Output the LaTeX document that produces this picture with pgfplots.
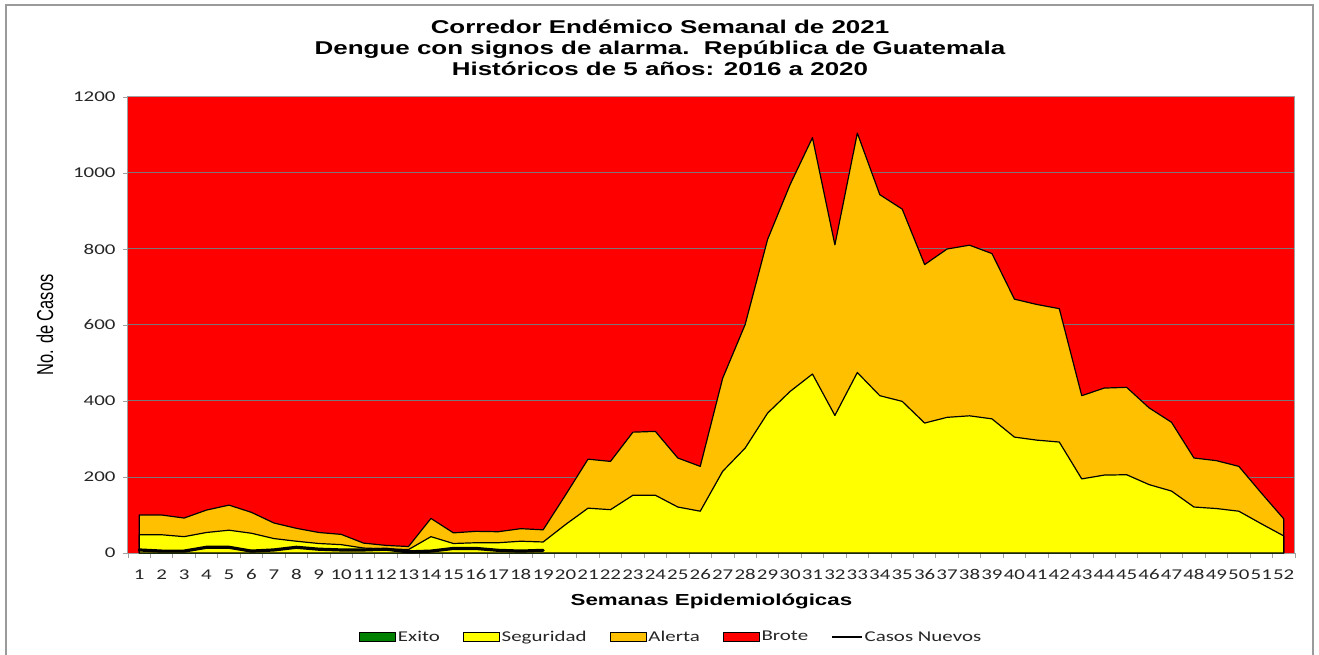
\documentclass[border=0pt]{standalone}
\usepackage{fontspec}
\setmainfont{Liberation Sans}[FakeStretch=1.4]
\newfontfamily\ticksf{Carlito}[FakeStretch=1.4]
\newfontfamily\plainsf{Liberation Sans}
\usepackage{graphicx}
\usepackage{pgfplots}
\usepackage{pgfplotstable}
\pgfplotsset{compat=1.18}
\definecolor{alerta}{HTML}{FFC000}
\definecolor{seg}{HTML}{FFFF00}
\definecolor{brote}{HTML}{FF0000}
\definecolor{exito}{HTML}{008000}
\definecolor{axgray}{HTML}{A0A0A0}
\definecolor{gridgray}{HTML}{787878}
\definecolor{framegray}{HTML}{9A9A9A}

\pgfplotstableread{
week exito seg alerta
1 0 48 100
2 0 48 100
3 0 43 92
4 0 54 113
5 0 60 126
6 0 52 107
7 0 38 79
8 0 31 65
9 0 25 54
10 0 22 49
11 0 13 26
12 0 11 20
13 0 9 17
14 0 43 91
15 0 25 53
16 0 27 57
17 0 27 56
18 0 31 64
19 0 29 61
20 0 75 153
21 0 118 247
22 0 114 241
23 0 152 318
24 0 152 320
25 0 121 250
26 0 110 228
27 0 215 460
28 0 276 601
29 0 368 825
30 0 425 969
31 0 471 1093
32 0 362 811
33 0 475 1105
34 0 414 943
35 0 399 905
36 0 342 759
37 0 357 800
38 0 361 810
39 0 353 788
40 0 305 668
41 0 297 654
42 0 292 643
43 0 195 414
44 0 205 434
45 0 206 436
46 0 180 382
47 0 163 344
48 0 121 250
49 0 117 243
50 0 110 228
51 0 77 158
52 0 45 90
}\corredor

\pgfplotstableread{
week casos
1 8
2 5
3 5
4 15
5 15
6 5
7 8
8 15
9 10
10 8
11 8
12 10
13 3
14 5
15 12
16 12
17 7
18 5
19 7
}\casos

\begin{document}
\begin{tikzpicture}
\path[use as bounding box] (-128bp,-102bp) rectangle (1191bp,553bp);
\begin{axis}[
  scale only axis, width=1167bp, height=456bp,
  xmin=0.5, xmax=52.5, ymin=0, ymax=1200,
  axis background/.style={fill=brote},
  axis line style={axgray, line width=1bp},
  xtick={1,...,52},
  minor xtick={0.5,1.5,...,52.5},
  ytick={0,200,...,1200},
  tick pos=left,
  tick align=outside,
  major x tick style={draw=none},
  minor x tick style={axgray, line width=0.8bp},
  major y tick style={axgray, line width=0.8bp},
  major tick length=5bp,
  minor tick length=5bp,
  ymajorgrids,
  major grid style={gridgray, line width=1bp},
  /pgf/number format/assume math mode=true,
  /pgf/number format/1000 sep={},
  tick label style={font=\ticksf\fontsize{15}{16}\selectfont, text=black!85},
  xticklabel style={yshift=-8bp},
  yticklabel style={xshift=-4bp},
  title={Corredor Endémico Semanal de 2021\\Dengue con signos de alarma.\ \ República de Guatemala\\Históricos de 5 años: 2016 a 2020},
  title style={at={(axis description cs:0.4559,1.094)}, anchor=center, align=center,
    font=\bfseries\fontsize{18.6}{21}\selectfont},
  xlabel={Semanas Epidemiológicas},
  xlabel style={at={(axis description cs:0.5,-0.105)}, anchor=center,
    font=\bfseries\fontsize{16}{18}\selectfont},
  ylabel={\scalebox{1}[1.4]{\plainsf\fontsize{16.5}{18}\selectfont No. de Casos}},
  ylabel style={at={(axis description cs:-0.0711,0.5)}, anchor=center},
  legend columns=5,
  legend style={at={(axis description cs:0.4655,-0.184)}, anchor=center,
    draw=none, fill=none, font=\ticksf\fontsize{15}{16}\selectfont, text=black!85,
    /tikz/every even column/.append style={column sep=21bp}},
  myarea/.style={legend image code/.code={\draw[##1, line width=0.8bp] (0bp,-4.5bp) rectangle (36bp,4.5bp);}},
  myline/.style={legend image code/.code={\draw[##1] (0bp,0bp) -- (30bp,0bp);}},
]
\addplot[fill=alerta, draw=black, line width=1.2bp, line join=round, forget plot]
  table[x=week, y=alerta] {\corredor} \closedcycle;
\addplot[fill=seg, draw=black, line width=1.2bp, line join=round, forget plot]
  table[x=week, y=seg] {\corredor} \closedcycle;
\addplot[fill=exito, draw=none, forget plot]
  table[x=week, y=exito] {\corredor} \closedcycle;
\addplot[black, line width=3.2bp, line join=round, line cap=round, forget plot]
  table[x=week, y=casos] {\casos};

\addlegendimage{myarea, fill=exito, draw=black}
\addlegendentry{Exito}
\addlegendimage{myarea, fill=seg, draw=black}
\addlegendentry{Seguridad}
\addlegendimage{myarea, fill=alerta, draw=black}
\addlegendentry{Alerta}
\addlegendimage{myarea, fill=brote, draw=black}
\addlegendentry{Brote}
\addlegendimage{myline, black, line width=1.5bp}
\addlegendentry{Casos Nuevos}
\end{axis}
\draw[framegray, line width=2bp] (-121.5bp,-102bp) -- (-121.5bp,547.5bp) -- (1184.5bp,547.5bp) -- (1184.5bp,-102bp);
\end{tikzpicture}
\end{document}
